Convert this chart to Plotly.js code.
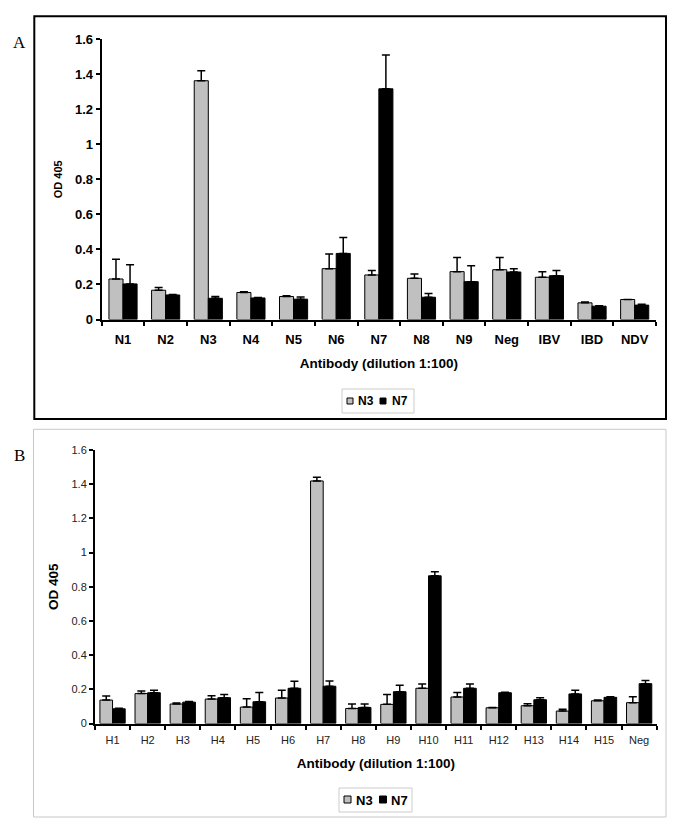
<!DOCTYPE html>
<html>
<head>
<meta charset="utf-8">
<script src="https://cdn.plot.ly/plotly-3.0.1.min.js"></script>
<style>
  body { margin: 0; background: #fff; }
  #chart { width: 685px; height: 840px; }
</style>
</head>
<body>
<div id="chart"></div>
<script>
// panel A - N antibodies
const catsA = ['N1', 'N2', 'N3', 'N4', 'N5', 'N6', 'N7', 'N8', 'N9', 'Neg', 'IBV', 'IBD', 'NDV'];
const n3A = [0.231, 0.167, 1.362, 0.154, 0.131, 0.290, 0.254, 0.235, 0.273, 0.284, 0.241, 0.095, 0.114];
const n3ErrA = [0.112, 0.015, 0.057, 0.005, 0.005, 0.083, 0.025, 0.025, 0.081, 0.070, 0.032, 0.005, 0];
const n7A = [0.203, 0.140, 0.121, 0.123, 0.116, 0.377, 1.316, 0.127, 0.216, 0.271, 0.250, 0.076, 0.082];
const n7ErrA = [0.110, 0.003, 0.010, 0.003, 0.013, 0.091, 0.193, 0.021, 0.091, 0.019, 0.029, 0.002, 0.005];

// panel B - H antibodies
const catsB = ['H1', 'H2', 'H3', 'H4', 'H5', 'H6', 'H7', 'H8', 'H9', 'H10', 'H11', 'H12', 'H13', 'H14', 'H15', 'Neg'];
const n3B = [0.137, 0.175, 0.114, 0.143, 0.096, 0.149, 1.419, 0.088, 0.112, 0.206, 0.155, 0.092, 0.104, 0.073, 0.133, 0.122];
const n3ErrB = [0.024, 0.015, 0.006, 0.020, 0.049, 0.045, 0.021, 0.026, 0.057, 0.025, 0.027, 0.002, 0.012, 0.011, 0.004, 0.035];
const n7B = [0.086, 0.180, 0.125, 0.151, 0.127, 0.206, 0.218, 0.094, 0.186, 0.864, 0.206, 0.180, 0.139, 0.173, 0.153, 0.233];
const n7ErrB = [0.003, 0.014, 0.004, 0.018, 0.055, 0.041, 0.031, 0.020, 0.038, 0.024, 0.025, 0.003, 0.012, 0.021, 0.004, 0.018];

const seriesNames = ['N3', 'N7'];
const barColors = ['#c0c0c0', '#000000'];
const yTicks = [0, 0.2, 0.4, 0.6, 0.8, 1, 1.2, 1.4, 1.6];

const W = 685, H = 840;
const FONT = 'Liberation Sans, Arial, sans-serif';
const px = x => x / W;
const py = y => 1 - y / H;

function barTrace(cats, vals, errs, i, xa, ya, w) {
    return {
        type: 'bar',
        x: cats,
        y: vals,
        name: seriesNames[i],
        xaxis: xa,
        yaxis: ya,
        width: w,
        offset: i === 0 ? -w : 0,
        marker: { color: barColors[i], line: { color: '#000', width: 1 } },
        error_y: {
            type: 'data',
            symmetric: false,
            array: errs,
            arrayminus: errs.map(() => 0),
            color: '#000',
            thickness: 1.5,
            width: 4
        },
        showlegend: false,
        hoverinfo: 'x+y'
    };
}

let data = [
    barTrace(catsA, n3A, n3ErrA, 0, 'x', 'y', 0.33),
    barTrace(catsA, n7A, n7ErrA, 1, 'x', 'y', 0.33),
    barTrace(catsB, n3B, n3ErrB, 0, 'x2', 'y2', 0.36),
    barTrace(catsB, n7B, n7ErrB, 1, 'x2', 'y2', 0.36)
];

function xAxis(cats, dom, anchor, tickFont, labelOff, titleOff) {
    return {
        domain: dom,
        anchor: anchor,
        type: 'category',
        range: [-0.5, cats.length - 0.5],
        showline: true, linewidth: 2, linecolor: '#000',
        ticks: 'outside', tickson: 'boundaries', ticklen: 4, tickwidth: 2, tickcolor: '#000',
        ticklabelstandoff: labelOff,
        tickfont: tickFont,
        showgrid: false, zeroline: false,
        title: { text: 'Antibody (dilution 1:100)', font: { family: FONT, size: 13.5, color: '#000', weight: 'bold' }, standoff: titleOff }
    };
}

function yAxis(dom, anchor, tickFont, titleSize) {
    return {
        domain: dom,
        anchor: anchor,
        range: [0, 1.6],
        tickvals: yTicks,
        showline: true, linewidth: 2, linecolor: '#000',
        ticks: 'outside', ticklen: 4, tickwidth: 2, tickcolor: '#000',
        tickfont: tickFont,
        showgrid: false, zeroline: false,
        title: { text: 'OD 405', font: { family: FONT, size: titleSize, color: '#000', weight: 'bold' }, standoff: 10 }
    };
}

const boldTicks = { family: FONT, size: 13, color: '#000', weight: 'bold' };
const plainTicks = { family: FONT, size: 11, color: '#222' };

// legend drawn by hand so it stays compact like the original
function legend(box, sq1, sq2, t1, t2, ty, fsize) {
    let shapes = [
        { type: 'rect', xref: 'paper', yref: 'paper', x0: px(box[0]), x1: px(box[1]), y0: py(box[3]), y1: py(box[2]),
          line: { color: '#cccccc', width: 1 }, fillcolor: '#fff' },
        { type: 'rect', xref: 'paper', yref: 'paper', x0: px(sq1[0]), x1: px(sq1[1]), y0: py(sq1[3]), y1: py(sq1[2]),
          line: { color: '#000', width: 1 }, fillcolor: barColors[0] },
        { type: 'rect', xref: 'paper', yref: 'paper', x0: px(sq2[0]), x1: px(sq2[1]), y0: py(sq2[3]), y1: py(sq2[2]),
          line: { color: '#000', width: 1 }, fillcolor: barColors[1] }
    ];
    let anns = [t1, t2].map((tx, i) => ({
        xref: 'paper', yref: 'paper', x: px(tx), y: py(ty), xanchor: 'left', yanchor: 'middle',
        text: seriesNames[i], showarrow: false, borderpad: 0,
        font: { family: FONT, size: fsize, color: '#000', weight: 'bold' }
    }));
    return { shapes, anns };
}

const legA = legend([342, 414, 389, 413], [347, 353, 398, 404], [380, 386, 398, 404], 356.5, 391, 401, 12);
const legB = legend([339, 412, 788, 812], [344, 351, 796, 803], [379.5, 386.5, 796, 803], 355, 389.5, 800, 13);

const serif = { family: 'Liberation Serif, Times New Roman, serif', size: 17, color: '#000' };

let layout = {
    width: W,
    height: H,
    margin: { l: 0, r: 0, t: 0, b: 0 },
    paper_bgcolor: '#fff',
    plot_bgcolor: 'rgba(0,0,0,0)',
    barmode: 'overlay',
    showlegend: false,
    xaxis: xAxis(catsA, [px(101.7), px(656)], 'y', boldTicks, 7, 12),
    yaxis: yAxis([py(319.5), py(39)], 'x', boldTicks, 11),
    xaxis2: xAxis(catsB, [px(95), px(656.7)], 'y2', plainTicks, 5, 14),
    yaxis2: yAxis([py(723.5), py(450)], 'x2', plainTicks, 13.5),
    shapes: [
        { type: 'rect', xref: 'paper', yref: 'paper', x0: px(34.3), x1: px(666), y0: py(419), y1: py(16.3),
          line: { color: '#000', width: 2 } },
        { type: 'rect', xref: 'paper', yref: 'paper', x0: px(33.5), x1: px(666), y0: py(817), y1: py(429.3),
          line: { color: '#c8c8c8', width: 1 } }
    ].concat(legA.shapes, legB.shapes),
    annotations: [
        { xref: 'paper', yref: 'paper', x: px(19), y: py(42), xanchor: 'center', yanchor: 'middle',
          text: 'A', showarrow: false, font: serif },
        { xref: 'paper', yref: 'paper', x: px(19), y: py(456), xanchor: 'center', yanchor: 'middle',
          text: 'B', showarrow: false, font: serif }
    ].concat(legA.anns, legB.anns)
};

Plotly.newPlot('chart', data, layout, { displayModeBar: false });
</script>
</body>
</html>
